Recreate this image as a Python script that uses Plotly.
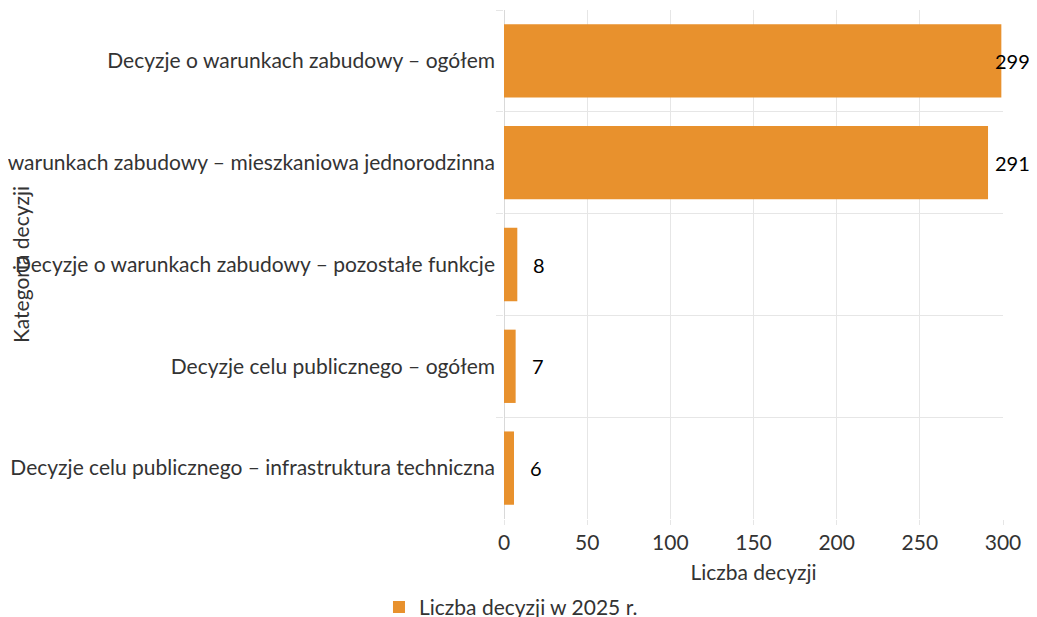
import plotly.graph_objects as go

categories = [
    "Decyzje o warunkach zabudowy – ogółem",
    "Decyzje o warunkach zabudowy – mieszkaniowa jednorodzinna",
    "Decyzje o warunkach zabudowy – pozostałe funkcje",
    "Decyzje celu publicznego – ogółem",
    "Decyzje celu publicznego – infrastruktura techniczna",
]
values = [299, 291, 8, 7, 6]
series_name = "Liczba decyzji w 2025 r."
x_title = "Liczba decyzji"
y_title = "Kategoria decyzji"
x_ticks = [0, 50, 100, 150, 200, 250, 300]

# the page body adds an 8px offset, so the figure is sized to the visible area
W, H = 1021, 609
L, R, T, B = 496, 26, 2, 98
x_range = [0, 300]
FONT = "Lato"
COLOR = "#E8912D"
GRID = "#E6E6E6"
TXT = "#333333"
FS = 21

fig = go.Figure()
fig.add_trace(go.Bar(
    x=values, y=categories, orientation="h",
    marker=dict(color=COLOR, line=dict(width=0)),
    name=series_name, showlegend=True, hoverinfo="x+y",
))

# value labels placed just right of each bar, kept inside the figure
plot_w = W - L - R
digit_w = 11.6
annotations = []
for c, v in zip(categories, values):
    txt = str(v)
    end_px = L + (v - x_range[0]) / (x_range[1] - x_range[0]) * plot_w
    est_w = digit_w * len(txt)
    shift = min(14, (W - 1 - est_w) - end_px)
    annotations.append(dict(
        x=v, y=c, xref="x", yref="y", text=txt, showarrow=False,
        xanchor="left", xshift=shift,
        font=dict(family=FONT, size=20, color="#000000"),
    ))

fig.update_layout(
    width=W, height=H,
    margin=dict(l=L, r=R, t=T, b=B, autoexpand=False),
    paper_bgcolor="white", plot_bgcolor="white",
    font=dict(family=FONT, size=FS, color=TXT),
    bargap=0.28,
    annotations=annotations,
    legend=dict(orientation="h", x=0.014, xanchor="center",
                yref="container", y=0.016, yanchor="middle",
                font=dict(family=FONT, size=FS, color=TXT)),
    xaxis=dict(
        range=x_range, tickvals=x_ticks, showgrid=True, gridcolor=GRID,
        zeroline=True, zerolinecolor="#D9D9D9", zerolinewidth=1,
        ticks="outside", ticklen=5, tickcolor=GRID,
        showline=False, automargin=False,
        title=dict(text=x_title, font=dict(family=FONT, size=FS, color=TXT), standoff=12),
        tickfont=dict(family=FONT, size=FS, color=TXT),
    ),
    yaxis=dict(
        autorange="reversed", tickson="boundaries", showgrid=True, gridcolor=GRID,
        ticks="outside", ticklen=7, tickcolor=GRID, automargin=False,
        ticklabelstandoff=8,
        title=dict(text=y_title, font=dict(family=FONT, size=FS, color=TXT)),
        tickfont=dict(family=FONT, size=FS, color=TXT),
    ),
)

fig.write_html("out.html")
